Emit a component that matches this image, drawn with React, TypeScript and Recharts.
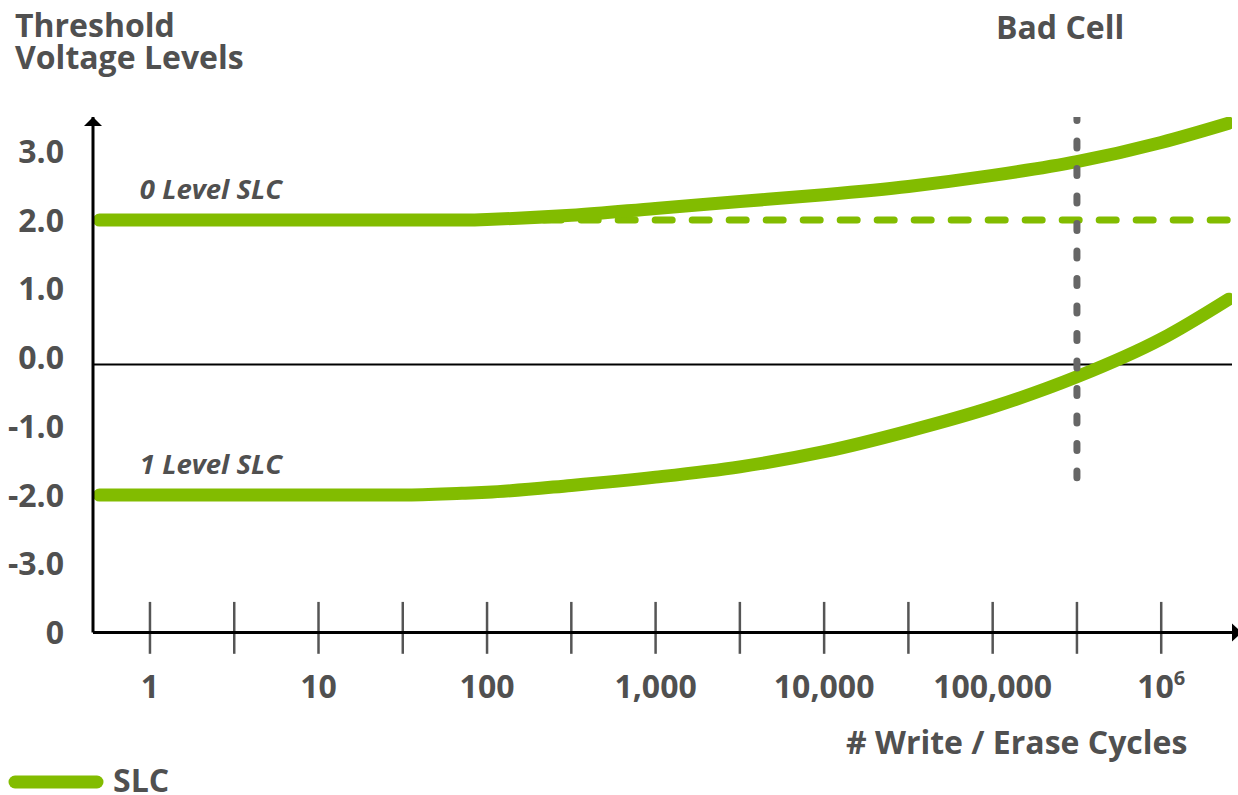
import React from "react";
import {ComposedChart, Line, XAxis, YAxis, ReferenceLine, ReferenceDot} from "recharts";

// x is log10(write/erase cycles), y is threshold voltage
const logCycles = [-0.3, 0, 0.5, 1, 1.5, 1.85, 2, 2.5, 3, 3.5, 4, 4.5, 5, 5.5, 6, 6.4];
const level0Slc = [2, 2, 2, 2, 2, 2, 2.01, 2.07, 2.17, 2.27, 2.37, 2.49, 2.65, 2.85, 3.13, 3.41];
const level1Slc = [-2, -2, -2, -2, -2, -1.975, -1.96, -1.86, -1.74, -1.59, -1.37, -1.07, -0.72, -0.28, 0.27, 0.85];

const baselineX = [1.9, 6.4];
const baselineY = [2, 2];

const badCellX = [5.5, 5.5];
const badCellY = [3.55, -1.75];

const cycleTicks = [0, 1, 2, 3, 4, 5, 6];
const cycleLabels = ["1", "10", "100", "1,000", "10,000", "100,000", "10^6"];
const minorTicks = [0, 0.5, 1, 1.5, 2, 2.5, 3, 3.5, 4, 4.5, 5, 5.5, 6];

const voltageTicks = [-4, -3, -2, -1, 0, 1, 2, 3];
const voltageLabels = ["0", "-3.0", "-2.0", "-1.0", "0.0", "1.0", "2.0", "3.0"];

const zeroLineY = -0.1;

const X_MIN = -0.338;
const X_MAX = 6.42;
const Y_MIN = -4;
const Y_MAX = 3.5;

const GREEN = "#82bc00";
const TEXT = "#505050";
const FONT = "'Open Sans', sans-serif";

const curveData = logCycles.map((x, i) => ({x, level0: level0Slc[i], level1: level1Slc[i]}));
const baselineData = baselineX.map((x, i) => ({x, base: baselineY[i]}));
const badCellData = badCellX.map((x, i) => ({x, bad: badCellY[i]}));

const XTick = (props: any) => {
    const i = cycleTicks.indexOf(props.payload.value);
    const label = cycleLabels[i];
    const cx = props.payload.coordinate;
    if (label === "10^6") {
        return (
            <text x={cx} y={698} textAnchor="middle" fill={TEXT} fontFamily={FONT} fontWeight={700} fontSize={32}>
                <tspan>10</tspan>
                <tspan dy={-13} fontSize={20}>6</tspan>
            </text>
        );
    }
    return (
        <text x={cx} y={698} textAnchor="middle" fill={TEXT} fontFamily={FONT} fontWeight={700} fontSize={32}>
            {label}
        </text>
    );
};

const YTick = (props: any) => {
    const i = voltageTicks.indexOf(props.payload.value);
    return (
        <text x={64} y={props.payload.coordinate} dy="0.36em" textAnchor="end" fill={TEXT}
              fontFamily={FONT} fontWeight={700} fontSize={32}>
            {voltageLabels[i]}
        </text>
    );
};

const UpArrow = (p: any) => (
    <polygon points={`${p.cx},${p.cy} ${p.cx - 9},${p.cy + 9} ${p.cx + 9},${p.cy + 9}`} fill="#000"/>
);

const RightArrow = (p: any) => (
    <polygon points={`${p.cx + 10},${p.cy} ${p.cx},${p.cy - 9} ${p.cx},${p.cy + 9}`} fill="#000"/>
);

const seriesLabel = (text: string) => (p: any) => (
    <text x={p.cx} y={p.cy - 21} textAnchor="start" fill={TEXT} fontFamily={FONT}
          fontWeight={700} fontStyle="italic" fontSize={27.5}>
        {text}
    </text>
);

const App = () => {
    return (
        <div style={{position: "absolute", left: 0, top: 0, width: 1238, height: 795, background: "#fff", fontFamily: FONT}}>
            <div style={{position: "absolute", left: 15, top: 9, color: TEXT, fontWeight: 700, fontSize: 32, lineHeight: "32px"}}>
                Threshold<br/>Voltage Levels
            </div>
            <div style={{position: "absolute", left: 996, top: 7, color: TEXT, fontWeight: 700, fontSize: 32, lineHeight: "40px"}}>
                Bad Cell
            </div>
            <div style={{position: "absolute", left: 846, top: 722, color: TEXT, fontWeight: 700, fontSize: 32, lineHeight: "40px", whiteSpace: "nowrap"}}>
                # Write / Erase Cycles
            </div>

            <ComposedChart width={1238} height={795} data={curveData}
                           margin={{top: 117, right: 6, left: 33, bottom: 102.5}}
                           style={{position: "absolute", left: 0, top: 0}}>
                <XAxis type="number" dataKey="x" domain={[X_MIN, X_MAX]} ticks={cycleTicks}
                       allowDataOverflow height={60} tickLine={false} tick={<XTick/>}
                       axisLine={{stroke: "#000", strokeWidth: 3}}/>
                <YAxis type="number" domain={[Y_MIN, Y_MAX]} ticks={voltageTicks}
                       allowDataOverflow width={60} tickLine={false} tick={<YTick/>}
                       axisLine={{stroke: "#000", strokeWidth: 3}}/>

                <ReferenceLine y={zeroLineY} stroke="#000" strokeWidth={2}/>

                {minorTicks.map((t) => (
                    <ReferenceLine key={t} ifOverflow="visible" stroke="#555" strokeWidth={2.5}
                                   segment={[{x: t, y: -3.555}, {x: t, y: -4.31}]}/>
                ))}

                <Line data={baselineData} dataKey="base" type="linear" stroke={GREEN} strokeWidth={7}
                      strokeDasharray="17 20" strokeLinecap="round" dot={false} activeDot={false}
                      legendType="none" isAnimationActive={false}/>
                <Line dataKey="level0" name="SLC" type="monotone" stroke={GREEN} strokeWidth={13}
                      strokeLinecap="round" dot={false} activeDot={false} isAnimationActive={false}/>
                <Line dataKey="level1" type="monotone" stroke={GREEN} strokeWidth={13}
                      strokeLinecap="round" dot={false} activeDot={false} legendType="none"
                      isAnimationActive={false}/>

                <Line data={badCellData} dataKey="bad" type="linear" stroke="#666" strokeWidth={7}
                      strokeDasharray="7 20.5" strokeLinecap="round" dot={false} activeDot={false}
                      legendType="none" isAnimationActive={false}/>

                <ReferenceDot x={-0.06} y={2} r={0} ifOverflow="visible" shape={seriesLabel("0 Level SLC")}/>
                <ReferenceDot x={-0.06} y={-2} r={0} ifOverflow="visible" shape={seriesLabel("1 Level SLC")}/>

                <ReferenceDot x={X_MIN} y={Y_MAX} r={0} ifOverflow="visible" shape={UpArrow}/>
                <ReferenceDot x={X_MAX} y={Y_MIN} r={0} ifOverflow="visible" shape={RightArrow}/>
            </ComposedChart>

            <svg width={110} height={30} style={{position: "absolute", left: 0, top: 767}}>
                <line x1={15} y1={15} x2={97} y2={15} stroke={GREEN} strokeWidth={13} strokeLinecap="round"/>
            </svg>
            <div style={{position: "absolute", left: 113, top: 760, color: TEXT, fontWeight: 700, fontSize: 32, lineHeight: "40px"}}>
                SLC
            </div>
        </div>
    );
};

export default App;
